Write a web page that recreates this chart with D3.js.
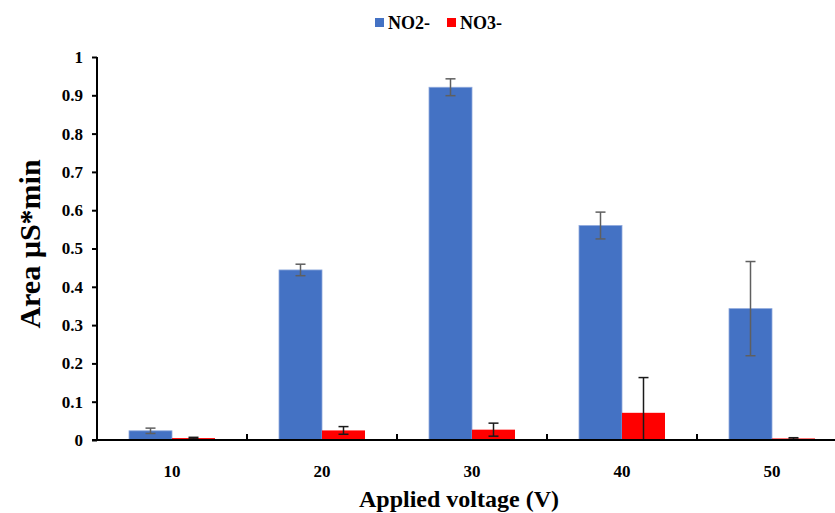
<!DOCTYPE html>
<html>
<head>
<meta charset="utf-8">
<script src="https://cdn.jsdelivr.net/npm/d3@7"></script>
<style>
  body { margin: 0; background: #fff; }
  text { font-family: "Liberation Serif", "Times New Roman", serif; font-weight: bold; }
</style>
</head>
<body>
<div id="content"></div>
<script>
// ******* DATA *******
const voltages = ["10", "20", "30", "40", "50"];
const seriesNames = ["NO2-", "NO3-"];
const no2Values = [0.024, 0.444, 0.921, 0.560, 0.343];
const no2Errors = [0.007, 0.015, 0.022, 0.035, 0.123];
const no3Values = [0.005, 0.025, 0.027, 0.071, 0.004];
const no3Errors = [0.002, 0.010, 0.017, 0.092, 0.002];
const yTicks = [0, 0.1, 0.2, 0.3, 0.4, 0.5, 0.6, 0.7, 0.8, 0.9, 1];

const colors = { "NO2-": "#4472C4", "NO3-": "#FF0000" };
const errColors = { "NO2-": "#5f5f5f", "NO3-": "#1a1a1a" };

// ******* LAYOUT *******
const width = 835, height = 513;
const margin = { left: 97, top: 57, bottom: 73 };
const plotBottom = height - margin.bottom;

const svg = d3.select("#content").append("svg")
    .attr("width", width)
    .attr("height", height);

// scales
const x0 = d3.scaleBand().domain(voltages).range([margin.left, margin.left + 750]);
const x1 = d3.scaleBand().domain(seriesNames).range([32, 118]);
const y = d3.scaleLinear().domain([0, 1]).range([plotBottom, margin.top]);

// flatten data for the bars
const rows = [];
voltages.forEach((v, i) => {
    rows.push({ v: v, s: "NO2-", val: no2Values[i], err: no2Errors[i] });
    rows.push({ v: v, s: "NO3-", val: no3Values[i], err: no3Errors[i] });
});

// bars
svg.append("g").selectAll("rect")
    .data(rows)
    .join("rect")
    .attr("x", d => x0(d.v) + x1(d.s))
    .attr("y", d => y(d.val))
    .attr("width", x1.bandwidth())
    .attr("height", d => y(0) - y(d.val))
    .attr("fill", d => colors[d.s])
    .attr("stroke", d => d.s === "NO2-" ? "#8fa9dc" : "none")
    .attr("stroke-width", 0.8);

// error bars
const errG = svg.append("g");
rows.forEach(d => {
    const cx = x0(d.v) + x1(d.s) + x1.bandwidth() / 2;
    const top = y(d.val + d.err);
    const bot = y(Math.max(0, d.val - d.err));
    const c = errColors[d.s];
    errG.append("line").attr("x1", cx).attr("x2", cx).attr("y1", top).attr("y2", bot)
        .attr("stroke", c).attr("stroke-width", 1.5);
    errG.append("line").attr("x1", cx - 5).attr("x2", cx + 5).attr("y1", top).attr("y2", top)
        .attr("stroke", c).attr("stroke-width", 1.5);
    if (d.val - d.err > 0) {
        errG.append("line").attr("x1", cx - 5).attr("x2", cx + 5).attr("y1", bot).attr("y2", bot)
            .attr("stroke", c).attr("stroke-width", 1.5);
    }
});

// y axis
const yAxis = svg.append("g")
    .attr("transform", `translate(${margin.left},0)`)
    .call(d3.axisLeft(y).tickValues(yTicks).tickFormat(d => d3.format("")(+d.toFixed(1))).tickSize(5).tickPadding(9));
yAxis.select(".domain").attr("stroke", "#000").attr("stroke-width", 2).attr("d", `M0,${margin.top}V${plotBottom}`);
yAxis.selectAll(".tick line").attr("stroke", "#000").attr("stroke-width", 2);
yAxis.selectAll(".tick text").attr("font-size", 17).attr("fill", "#000")
    .style("font-family", "'Liberation Serif', serif").style("font-weight", "bold");

// x axis line and category separators
svg.append("line")
    .attr("x1", margin.left - 5).attr("x2", width)
    .attr("y1", plotBottom).attr("y2", plotBottom)
    .attr("stroke", "#000").attr("stroke-width", 2);
svg.append("g").selectAll("line")
    .data(voltages.slice(1))
    .join("line")
    .attr("x1", d => x0(d)).attr("x2", d => x0(d))
    .attr("y1", plotBottom).attr("y2", plotBottom - 6)
    .attr("stroke", "#000").attr("stroke-width", 2);

svg.append("g").selectAll("text")
    .data(voltages)
    .join("text")
    .attr("x", d => x0(d) + x0.bandwidth() / 2)
    .attr("y", plotBottom + 37)
    .attr("text-anchor", "middle")
    .attr("font-size", 17)
    .text(d => d);

// axis titles
svg.append("text")
    .attr("x", 459).attr("y", 507)
    .attr("text-anchor", "middle")
    .attr("font-size", 24)
    .text("Applied voltage (V)");

svg.append("text")
    .attr("transform", `translate(40,244) rotate(-90)`)
    .attr("text-anchor", "middle")
    .attr("font-size", 30)
    .text("Area µS*min");

// legend
const legend = svg.append("g");
const legendX = [375, 447];
seriesNames.forEach((s, i) => {
    legend.append("rect")
        .attr("x", legendX[i]).attr("y", 18)
        .attr("width", 9).attr("height", 9)
        .attr("fill", colors[s]);
    legend.append("text")
        .attr("x", legendX[i] + 13).attr("y", 29)
        .attr("font-size", 18)
        .text(s);
});
</script>
</body>
</html>
